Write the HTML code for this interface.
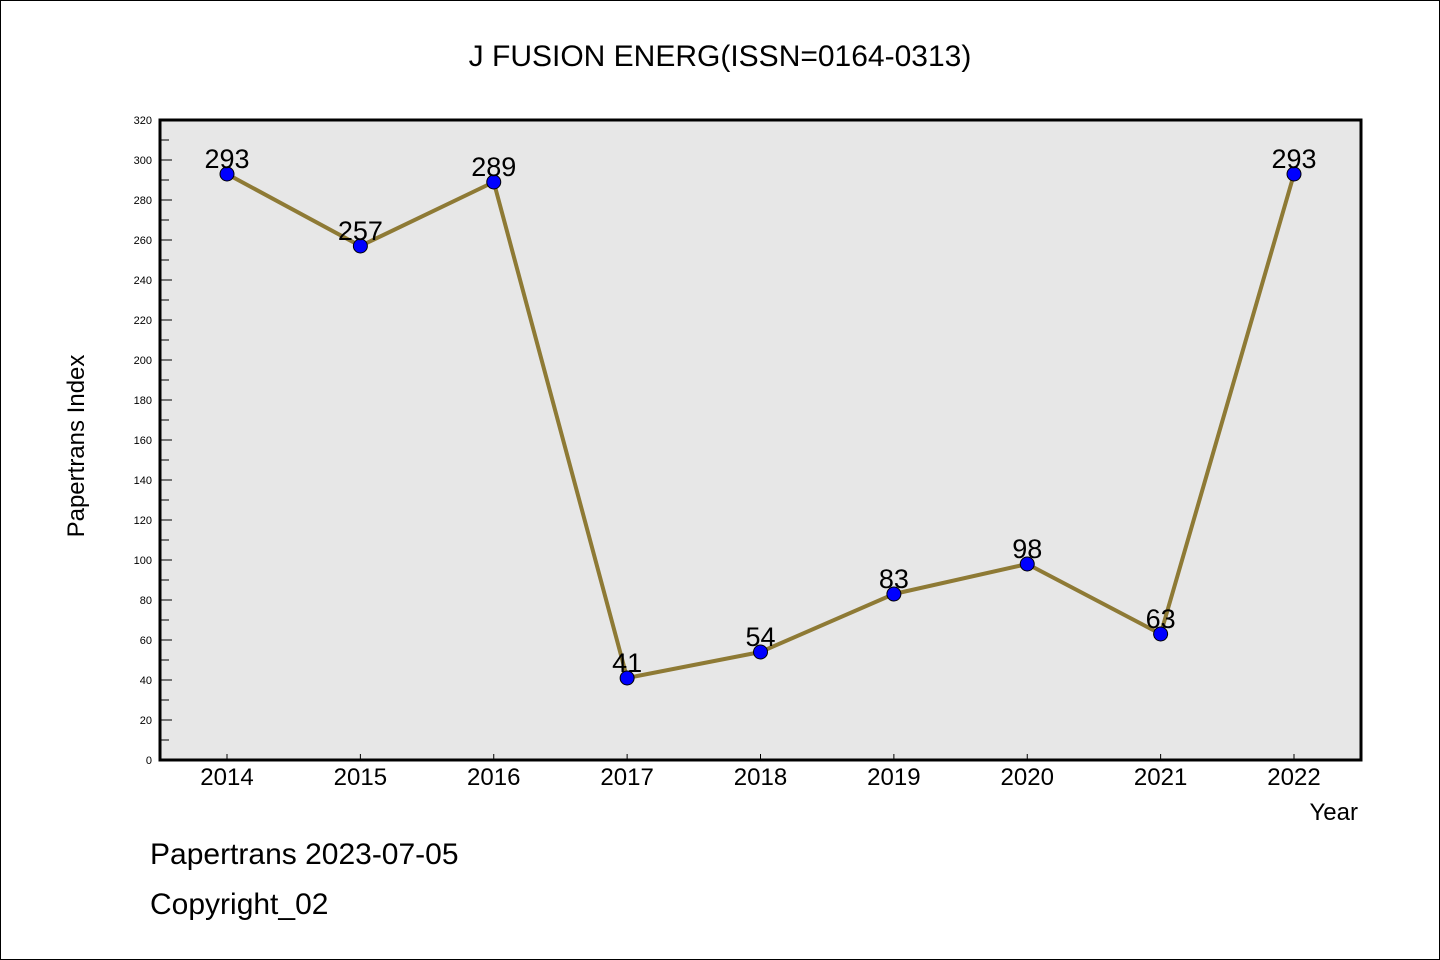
<!DOCTYPE html>
<html><head><meta charset="utf-8"><style>
html,body{margin:0;padding:0;background:#fff}
svg{display:block;font-family:"WenQuanYi Zen Hei","Liberation Sans",sans-serif}
</style></head><body>
<svg id="chart" width="1440" height="960" viewBox="0 0 1440 960">
<rect x="0.5" y="0.5" width="1439" height="959" fill="#fff" stroke="#000" stroke-width="1"/>
<text x="720" y="66" font-size="30" text-anchor="middle">J FUSION ENERG(ISSN=0164-0313)</text>
<rect x="160" y="120" width="1201" height="640" fill="#e7e7e7"/>
<g id="axes"></g>
<g id="series"></g>
<rect x="160" y="120" width="1201" height="640" fill="none" stroke="#000" stroke-width="3"/>
<text transform="translate(84,446) rotate(-90)" font-size="24" text-anchor="middle">Papertrans Index</text>
<text x="1358" y="820" font-size="24" text-anchor="end">Year</text>
<text x="150" y="864" font-size="30">Papertrans 2023-07-05</text>
<text x="150" y="914" font-size="30">Copyright_02</text>
</svg>
<script>
const categories = ["2014","2015","2016","2017","2018","2019","2020","2021","2022"];
const values = [293,257,289,41,54,83,98,63,293];
const yTicks = [0,20,40,60,80,100,120,140,160,180,200,220,240,260,280,300,320];
const NS="http://www.w3.org/2000/svg";
function xs(i){return 227+i*(1294-227)/(categories.length-1);}
function ys(v){return 760-v*2;}
function mk(tag,attrs,parent){const e=document.createElementNS(NS,tag);for(const k in attrs)e.setAttribute(k,attrs[k]);parent.appendChild(e);return e;}
const ax=document.getElementById('axes'), se=document.getElementById('series');
yTicks.forEach((t,i)=>{
  const l=mk('line',{x1:160,x2:172,y1:ys(t),y2:ys(t),stroke:'#000','stroke-width':1},ax);
  
  
  const tx=mk('text',{x:152,y:ys(t)+4,'font-size':11,'text-anchor':'end'},ax);
  
  
  tx.textContent=t;
  if(i<yTicks.length-1){
    const m=mk('line',{x1:160,x2:169,y1:ys(t+10),y2:ys(t+10),stroke:'#000','stroke-width':1},ax);
    
    
  }
});
categories.forEach((c,i)=>{
  const l=mk('line',{x1:xs(i),x2:xs(i),y1:760,y2:754,stroke:'#000','stroke-width':1},ax);
  
  
  const tx=mk('text',{x:xs(i),y:785,'font-size':24,'text-anchor':'middle'},ax);
  
  
  tx.textContent=c;
});
const pl=mk('polyline',{points:values.map((v,i)=>xs(i)+','+ys(v)).join(' '),fill:'none',stroke:'#8e7a35','stroke-width':4,'stroke-linejoin':'round'},se);


values.forEach((v,i)=>{
  const c=mk('circle',{cx:xs(i),cy:ys(v),r:7,fill:'#0000ff',stroke:'#000','stroke-width':1},se);
  
  
  const t=mk('text',{x:xs(i),y:ys(v)-6,'font-size':27,'text-anchor':'middle'},se);
  
  
  t.textContent=v;
});
</script>
</body></html>
